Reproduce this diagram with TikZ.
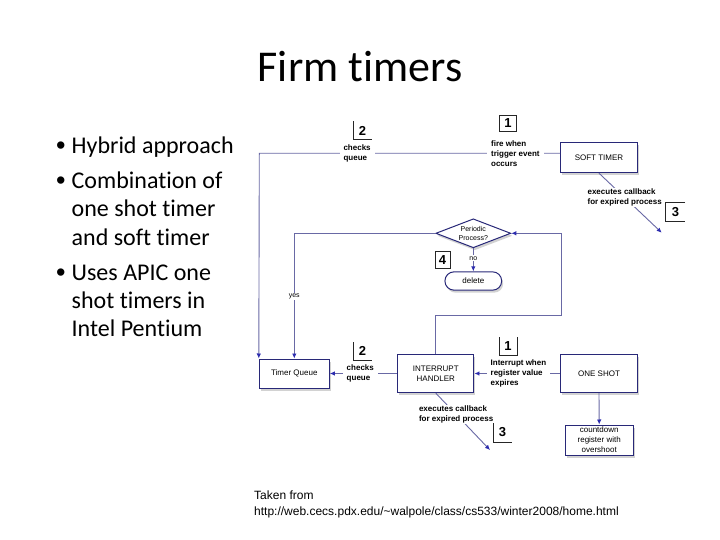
\documentclass[tikz,border=0pt]{standalone}
\usepackage{fontspec}
\setmainfont{Carlito}[Ligatures=NoCommon]
\newfontfamily\diafont{Liberation Sans}
\usetikzlibrary{shapes.geometric,arrows.meta,shadows}
\definecolor{boxblue}{RGB}{40,40,120}
\definecolor{lineblue}{RGB}{105,105,165}
\definecolor{tipblue}{RGB}{45,45,175}
\begin{document}
\begin{tikzpicture}[x=1pt,y=-1pt,
  box/.style={draw=boxblue, line width=1pt, fill=white, font=\diafont\fontsize{8}{10}\selectfont, align=center, inner sep=1pt,
    drop shadow={shadow xshift=1.5pt, shadow yshift=-2.5pt, opacity=0.35}},
  conn/.style={draw=lineblue, line width=0.9pt},
  arr/.style={conn, -{Latex[length=5pt,width=4.5pt,color=tipblue]}},
  lbl/.style={font=\diafont\bfseries\fontsize{8}{10}\selectfont, align=left, fill=white, inner xsep=4pt, inner ysep=1pt},
  small/.style={font=\diafont\fontsize{7}{8}\selectfont, fill=white, inner sep=0.8pt},
  num/.style={font=\diafont\bfseries\fontsize{13}{13}\selectfont, inner sep=0pt},
  numline/.style={draw=black!85, line width=0.8pt},
  slide/.style={font=\fontsize{24}{28.8}\selectfont, anchor=base west, inner sep=0pt},
  bul/.style={font=\diafont\fontsize{27}{30}\selectfont, anchor=base west, inner sep=0pt},
  src/.style={font=\diafont\fontsize{12}{14}\selectfont, anchor=base west, inner sep=0pt},
]
\fill[white] (0,0) rectangle (720,540);
\useasboundingbox (0,0) rectangle (720,540);

% title
\node[font=\fontsize{44}{50}\selectfont, anchor=base, inner sep=0pt] (title) at (360,82) {Firm timers};

% bullets
\node[bul] (b1) at (56,154.5) {•};
\node[bul] (b2) at (56,189.5) {•};
\node[bul] (b3) at (56,281.2) {•};
\node[slide] (t1) at (71.5,153.3) {Hybrid approach};
\node[slide] (t2) at (71.5,188.3) {Combination of};
\node[slide] (t3) at (71.5,216.7) {one shot timer};
\node[slide] (t4) at (71.5,245) {and soft timer};
\node[slide] (t5) at (71.5,280) {Uses APIC one};
\node[slide] (t6) at (71.5,308.3) {shot timers in};
\node[slide] (t7) at (71.5,336.7) {Intel Pentium};

% boxes
\node[box, minimum width=76.6pt, minimum height=30pt] (soft) at (599,157.7) {SOFT TIMER};
\node[box, minimum width=70pt, minimum height=29pt] (tq) at (294.3,373.5) {Timer Queue};
\node[box, minimum width=76.3pt, minimum height=38.3pt] (ih) at (435.8,373.5) {INTERRUPT\\HANDLER};
\node[box, minimum width=76.6pt, minimum height=38.3pt] (os) at (599,373.5) {ONE SHOT};
\node[box, minimum width=68.3pt, minimum height=30pt] (cd) at (599.2,440) {countdown\\register with\\overshoot};
\node[box, shape=diamond, aspect=2.6, minimum width=75pt, minimum height=29pt, inner sep=0pt,
  font=\diafont\fontsize{7}{9}\selectfont] (dia) at (473.3,233.3) {Periodic\\Process?};
\node[box, rounded corners=9pt, minimum width=56.7pt, minimum height=18.3pt] (del) at (473.3,281) {delete};

% helper coordinates
\coordinate (tl) at (259.3,153.3);
\coordinate (yc) at (294.3,233.3);
\coordinate (lr) at (561.7,315);
\coordinate (lt) at (561.7,233.3);
\coordinate (tip1) at (661.7,232.7);
\coordinate (tip2) at (490,450);

% connectors
\draw[arr] (soft.west |- tl) -- node[lbl, pos=0.149] (fire) {fire when\\trigger event\\occurs}
  node[lbl, pos=0.675] (chk1) {checks\\queue} (tl) -- (tq.north west);
\draw[arr] (dia.west) -- (yc) -- node[small, pos=0.503] (yes) {yes} (tq.north);
\draw[arr] (dia.south) -- node[small, pos=0.43] (no) {no} (del.north);
\draw[arr] (ih.north) |- (lr) -- (lt) -- (dia.east);
\draw[arr] (soft.south) -- node[lbl, pos=0.41] (cb1) {executes callback\\for expired process} (tip1);
\draw[arr] (ih.south) -- node[lbl, pos=0.375] (cb2) {executes callback\\for expired process} (tip2);
\draw[arr] (ih.west) -- node[lbl, pos=0.547] (chk2) {checks\\queue} (tq.east);
\draw[arr] (os.west) -- node[lbl, pos=0.487] (intr) {Interrupt when\\register value\\expires} (ih.east);
\draw[arr] (os.south) -- (cd.north);

% step numbers
\node[num, minimum width=18.4pt, minimum height=17.6pt] (n2a) at (362.5,130.5) {2};
\draw[numline] (n2a.north west) |- (n2a.south east);
\node[num, minimum width=17.4pt, minimum height=16.7pt, draw=black!85, line width=0.8pt] (n1a) at (508,123.3) {1};
\node[num, minimum width=19pt, minimum height=19pt] (n3a) at (675.5,212.2) {3};
\draw[numline] (n3a.north east) -| (n3a.south west) -- (n3a.south east);
\node[num, minimum width=15pt, minimum height=16.7pt, draw=black!85, line width=0.8pt] (n4) at (442.5,260) {4};
\node[num, minimum width=17.4pt, minimum height=17.7pt] (n1b) at (508,346.2) {1};
\draw[numline] (n1b.north west) |- (n1b.south east) -- (n1b.north east);
\node[num, minimum width=18.4pt, minimum height=17.3pt] (n2b) at (362.5,351.3) {2};
\draw[numline] (n2b.north west) |- (n2b.south east);
\node[num, minimum width=18.4pt, minimum height=18.4pt] (n3b) at (502.5,432.5) {3};
\draw[numline] (n3b.north west) |- (n3b.south east);

% source
\node[src] (src1) at (254,499) {Taken from};
\node[src] (src2) at (254,515) {http://web.cecs.pdx.edu/\textasciitilde walpole/class/cs533/winter2008/home.html};
\end{tikzpicture}
\end{document}
